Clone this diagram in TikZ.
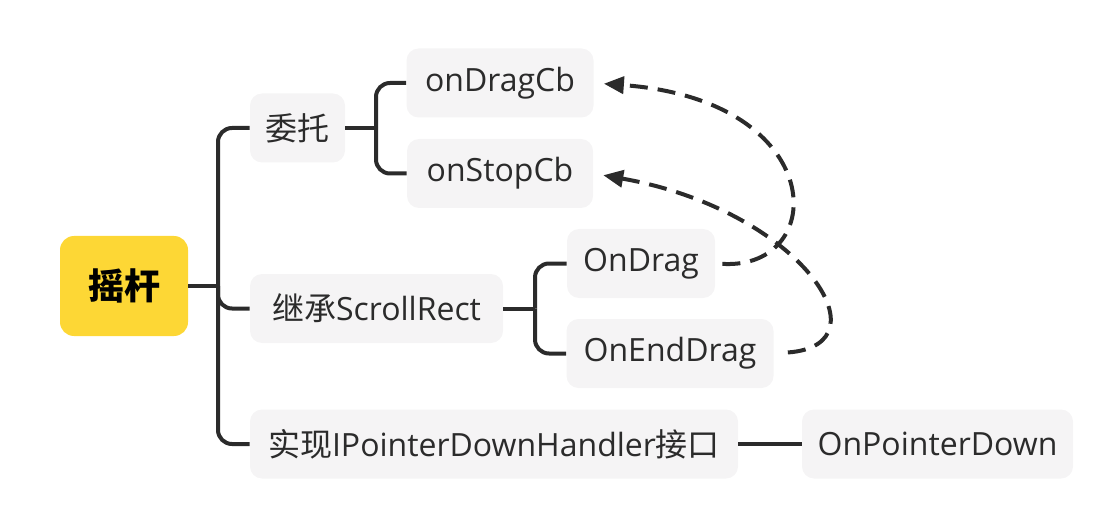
\documentclass[tikz,border=0pt]{standalone}
\usepackage{fontspec}
\setmainfont{Open Sans}
\newfontfamily\cjk{Noto Sans CJK SC}
\usetikzlibrary{positioning,arrows.meta}
\definecolor{linegray}{HTML}{2B2B2B}
\definecolor{topicfill}{HTML}{F5F4F5}
\definecolor{rootyellow}{HTML}{FDD735}

\begin{document}
\begin{tikzpicture}[x=0.5pt, y=-0.5pt,
    topic/.style={fill=topicfill, rounded corners=6pt, text=linegray, inner sep=0pt,
      font=\fontsize{16}{19}\selectfont, minimum height=34.5pt},
    root/.style={fill=rootyellow, rounded corners=7pt, inner sep=0pt,
      font=\cjk\bfseries\fontsize{18}{22}\selectfont, minimum width=64pt, minimum height=50pt},
    branch/.style={draw=linegray, line width=2pt},
    elbow/.style={branch, rounded corners=7pt},
    relation/.style={draw=linegray, line width=2pt, dash pattern=on 9pt off 5pt,
      -{Triangle[length=10pt,width=8.5pt]}}]
    \useasboundingbox (0,0) rectangle (1118,529);

    % topics
    \node[root](yaogan) at (124,286) {摇杆};
    \node[topic, minimum width=47.5pt](weituo) at (297.5,128) {\cjk 委托};
    \node[topic, minimum width=126.5pt](jicheng) at (376.5,308.5) {{\cjk 继承}ScrollRect};
    \node[topic, minimum width=244pt](shixian) at (494,444) {{\cjk 实现}IPointerDownHandler{\cjk 接口}};
    \node[topic, minimum width=93.5pt](ondragcb) at (500,83) {onDragCb};
    \node[topic, minimum width=93pt](onstopcb) at (500,173.5) {onStopCb};
    \node[topic, minimum width=74pt](ondrag) at (641,263.5) {OnDrag};
    \node[topic, minimum width=103.5pt](onenddrag) at (670,353.5) {OnEndDrag};
    \node[topic, minimum width=135.5pt](onpointerdown) at (937.5,444) {OnPointerDown};

    % hubs
    \coordinate (hub) at (218,286);
    \coordinate (weituo-hub) at (376,128);
    \coordinate (jicheng-hub) at (535,308.5);

    \draw[branch] (yaogan.east) -- (hub);
    \draw[elbow] (hub) |- (weituo.west);
    \draw[elbow] (hub) |- (jicheng.west);
    \draw[elbow] (hub) |- (shixian.west);
    \draw[branch] (weituo.east) -- (weituo-hub);
    \draw[elbow] (weituo-hub) |- (ondragcb.west);
    \draw[elbow] (weituo-hub) |- (onstopcb.west);
    \draw[branch] (jicheng.east) -- (jicheng-hub);
    \draw[elbow] (jicheng-hub) |- (ondrag.west);
    \draw[elbow] (jicheng-hub) |- (onenddrag.west);
    \draw[branch] (shixian.east) -- (onpointerdown.west);

    % callbacks
    \draw[relation, shorten <=3.5pt, shorten >=5pt]
      (ondrag.east) .. controls (830,270) and (830,100) .. (ondragcb.east);
    \draw[relation, shorten <=7pt, shorten >=5pt]
      (onenddrag.east) .. controls (890,345) and (800,210) .. (onstopcb.east);
\end{tikzpicture}
\end{document}
